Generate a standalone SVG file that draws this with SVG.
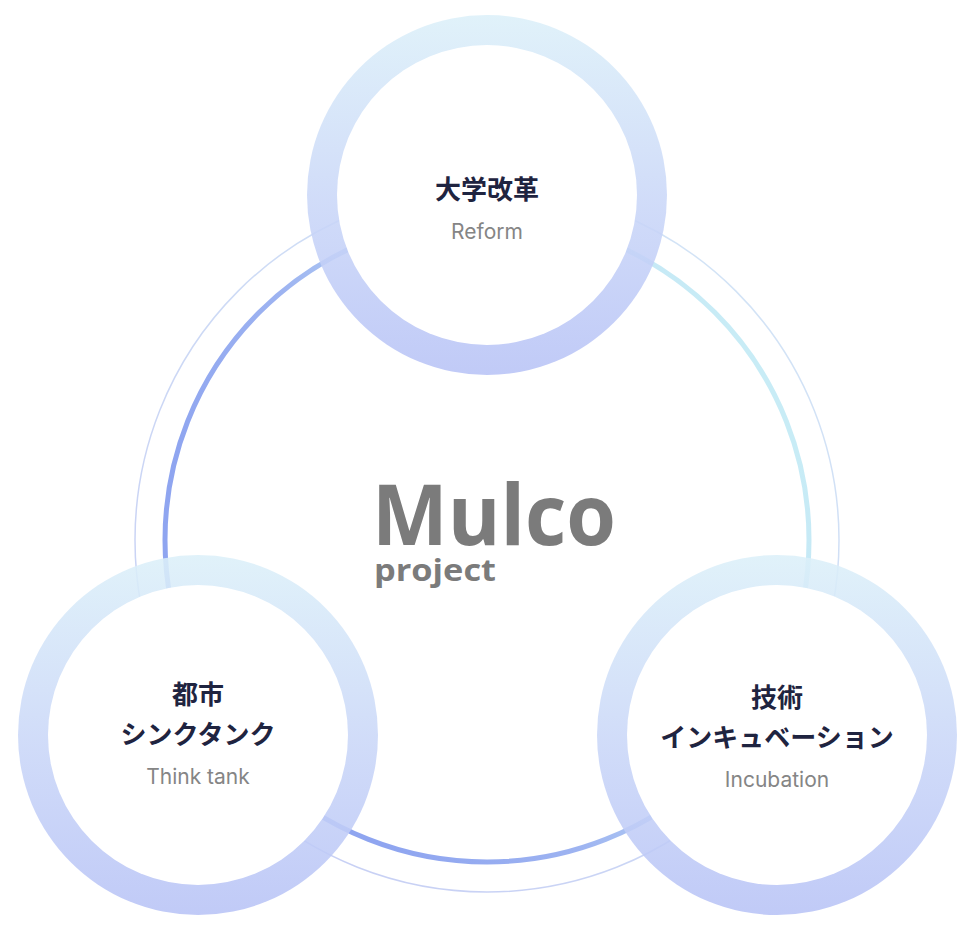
<svg xmlns="http://www.w3.org/2000/svg" width="975" height="930" viewBox="0 0 975 930">
<defs>
<linearGradient id="ringG" x1="0.95" y1="0.3" x2="0.2" y2="0.7">
<stop offset="0" stop-color="#c8ecf6"/><stop offset="0.35" stop-color="#c0e0f5"/><stop offset="0.7" stop-color="#9db3f1"/><stop offset="1" stop-color="#8fa5f0"/>
</linearGradient>
<linearGradient id="thinG" x1="0.85" y1="0.1" x2="0.2" y2="0.9">
<stop offset="0" stop-color="#c0d8f2"/><stop offset="1" stop-color="#b0bcf0"/>
</linearGradient>
<linearGradient id="nodeG" x1="0" y1="0" x2="0" y2="1">
<stop offset="0" stop-color="#dcf0f9"/><stop offset="0.5" stop-color="#cbd8f8"/><stop offset="1" stop-color="#b8c3f6"/>
</linearGradient>
<style>
.band{fill:url(#nodeG);opacity:0.88}
.inner{fill:#fff}
.jp{font-family:"Noto Sans CJK JP","Noto Sans",sans-serif;font-weight:700;font-size:26px;fill:#1f2440;text-anchor:middle}
.en{font-family:Inter,"Liberation Sans",sans-serif;font-size:21px;fill:#858585;text-anchor:middle}
.logo{font-family:"Open Sans","Noto Sans",sans-serif;font-weight:700;fill:#7b7b7b}
</style>
</defs>
<g id="connectors">
<circle cx="487" cy="540" r="352" fill="none" stroke="url(#thinG)" stroke-width="1.5" opacity="0.7"/>
<circle cx="487" cy="540" r="322" fill="none" stroke="url(#ringG)" stroke-width="5"/>
</g>
<g id="logo">
<text class="logo" x="372" y="545" font-size="84" textLength="244" lengthAdjust="spacingAndGlyphs">Mulco</text>
<text class="logo" x="374" y="581" font-size="31" textLength="122" lengthAdjust="spacingAndGlyphs">project</text>
</g>
<g id="reform">
<circle class="band" cx="487" cy="195" r="180"/>
<circle class="inner" cx="487" cy="195" r="150"/>
<text class="jp" x="487" y="199">大学改革</text>
<text class="en" x="487" y="239">Reform</text>
</g>
<g id="thinktank">
<circle class="band" cx="198" cy="735" r="180"/>
<circle class="inner" cx="198" cy="735" r="150"/>
<text class="jp" x="198" y="704">都市</text>
<text class="jp" x="198" y="744">シンクタンク</text>
<text class="en" x="198" y="784">Think tank</text>
</g>
<g id="incubation">
<circle class="band" cx="777" cy="735" r="180"/>
<circle class="inner" cx="777" cy="735" r="150"/>
<text class="jp" x="777" y="707">技術</text>
<text class="jp" x="777" y="747">インキュベーション</text>
<text class="en" x="777" y="787">Incubation</text>
</g>
</svg>
